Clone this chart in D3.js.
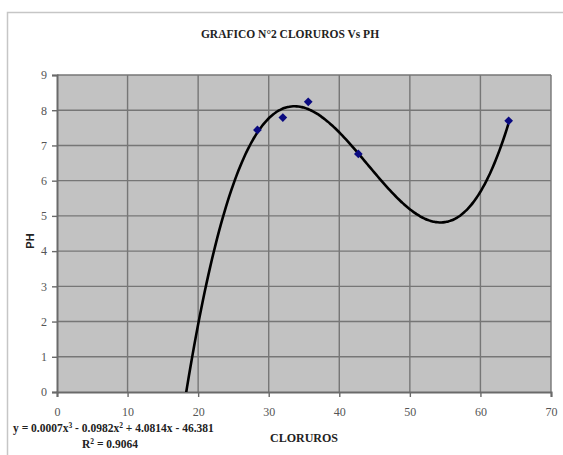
<!DOCTYPE html>
<html>
<head>
<meta charset="utf-8">
<script src="https://cdn.jsdelivr.net/npm/d3@7"></script>
<style>
  body { margin: 0; background: #fff; }
</style>
</head>
<body>
<svg id="chart" width="563" height="455"></svg>
<script>
// Measured samples: chloride content vs pH
const cloruros = [28.4, 32.0, 35.6, 42.7, 64.0];
const ph = [7.44, 7.79, 8.24, 6.76, 7.70];

// Axis ticks
const xTicks = [0, 10, 20, 30, 40, 50, 60, 70];
const yTicks = [0, 1, 2, 3, 4, 5, 6, 7, 8, 9];

// Polynomial (3rd order) trendline: a x^3 + b x^2 + c x + d
const trendCoef = [0.000744, -0.0982, 4.0814, -46.381];
const trendRange = [18.2, 64.0];
const rSquared = 0.9064;

const titleText = "GRAFICO N°2 CLORUROS Vs PH";
const xTitle = "CLORUROS";
const yTitle = "PH";

const SERIF = '"Liberation Serif", "Times New Roman", serif';
const SANS = '"Liberation Sans", Arial, sans-serif';

const svg = d3.select("#chart");
const plot = { left: 57, right: 551, top: 75, bottom: 392 };

const x = d3.scaleLinear().domain([0, 70]).range([plot.left, plot.right]);
const y = d3.scaleLinear().domain([0, 9]).range([plot.bottom, plot.top]);

// outer chart frame
svg.append("rect")
  .attr("x", 7.5).attr("y", 12.5).attr("width", 620).attr("height", 500)
  .attr("fill", "#fff").attr("stroke", "#c6c6c6").attr("stroke-width", 1.5);

// title
svg.append("text")
  .attr("x", 290).attr("y", 38)
  .attr("text-anchor", "middle")
  .style("font-family", SERIF)
  .attr("font-size", 11.5).attr("font-weight", "bold").attr("fill", "#222")
  .text(titleText);

// plot background
svg.append("rect")
  .attr("x", plot.left).attr("y", plot.top)
  .attr("width", plot.right - plot.left).attr("height", plot.bottom - plot.top)
  .attr("fill", "#c2c2c2");

// gridlines
svg.append("g")
  .selectAll("line")
  .data(yTicks.slice(1))
  .join("line")
  .attr("x1", plot.left).attr("x2", plot.right)
  .attr("y1", d => y(d)).attr("y2", d => y(d))
  .attr("stroke", "#767676").attr("stroke-width", 1.4);

svg.append("g")
  .selectAll("line")
  .data(xTicks.slice(1))
  .join("line")
  .attr("y1", plot.top).attr("y2", plot.bottom)
  .attr("x1", d => x(d)).attr("x2", d => x(d))
  .attr("stroke", "#767676").attr("stroke-width", 1.4);

// axes
const yAxis = d3.axisLeft(y).tickValues(yTicks).tickSize(5).tickPadding(5).tickFormat(d3.format("d"));
const xAxis = d3.axisBottom(x).tickValues(xTicks).tickSize(5).tickPadding(10).tickFormat(d3.format("d"));

const gy = svg.append("g").attr("transform", `translate(${plot.left},0)`).call(yAxis);
const gx = svg.append("g").attr("transform", `translate(0,${plot.bottom})`).call(xAxis);

[gx, gy].forEach(g => {
  g.select(".domain").attr("stroke", "#6a6a6a").attr("stroke-width", 2);
  g.selectAll(".tick line").attr("stroke", "#6a6a6a").attr("stroke-width", 1.4);
  g.selectAll(".tick text")
    .style("font-family", SERIF)
    .style("font-size", "12px").attr("fill", "#555");
});

// axis titles
svg.append("text")
  .attr("transform", "translate(34,241) rotate(-90)")
  .attr("text-anchor", "middle")
  .style("font-family", SANS)
  .attr("font-size", 11).attr("font-weight", "bold").attr("fill", "#222")
  .text(yTitle);

svg.append("text")
  .attr("x", 304).attr("y", 442)
  .attr("text-anchor", "middle")
  .style("font-family", SERIF)
  .attr("font-size", 12).attr("font-weight", "bold").attr("fill", "#222")
  .text(xTitle);

// trendline
svg.append("clipPath").attr("id", "plotClip")
  .append("rect")
  .attr("x", plot.left).attr("y", plot.top)
  .attr("width", plot.right - plot.left).attr("height", plot.bottom - plot.top);

const poly = v => ((trendCoef[0] * v + trendCoef[1]) * v + trendCoef[2]) * v + trendCoef[3];
const samples = d3.range(trendRange[0], trendRange[1] + 0.001, 0.25);
svg.append("path")
  .attr("clip-path", "url(#plotClip)")
  .attr("d", d3.line().x(d => x(d)).y(d => y(poly(d))).curve(d3.curveMonotoneX)(samples))
  .attr("fill", "none").attr("stroke", "#000").attr("stroke-width", 2.6);

// data markers (diamonds)
const pts = cloruros.map((c, i) => ({ c, p: ph[i] }));
svg.append("g")
  .selectAll("path")
  .data(pts)
  .join("path")
  .attr("transform", d => `translate(${x(d.c)},${y(d.p)}) rotate(45)`)
  .attr("d", d3.symbol(d3.symbolSquare, 38))
  .attr("fill", "#0a0a80");

// trendline equation and R²
const fmt = (v, n) => Math.abs(v).toFixed(n);
const sign = v => (v < 0 ? " - " : " + ");
const eq = svg.append("text")
  .attr("x", 13).attr("y", 432)
  .style("font-family", SERIF)
  .attr("font-size", 11.5).attr("font-weight", "bold").attr("fill", "#222");
eq.append("tspan").text("y = " + fmt(trendCoef[0], 4) + "x");
eq.append("tspan").attr("dy", -4).attr("font-size", 7.5).text("3");
eq.append("tspan").attr("dy", 4).text(sign(trendCoef[1]) + fmt(trendCoef[1], 4) + "x");
eq.append("tspan").attr("dy", -4).attr("font-size", 7.5).text("2");
eq.append("tspan").attr("dy", 4).text(sign(trendCoef[2]) + fmt(trendCoef[2], 4) + "x" + sign(trendCoef[3]) + fmt(trendCoef[3], 3));

const r2 = svg.append("text")
  .attr("x", 82).attr("y", 448)
  .style("font-family", SERIF)
  .attr("font-size", 11.5).attr("font-weight", "bold").attr("fill", "#222");
r2.append("tspan").text("R");
r2.append("tspan").attr("dy", -4).attr("font-size", 7.5).text("2");
r2.append("tspan").attr("dy", 4).text(" = " + rSquared.toFixed(4));
</script>
</body>
</html>
